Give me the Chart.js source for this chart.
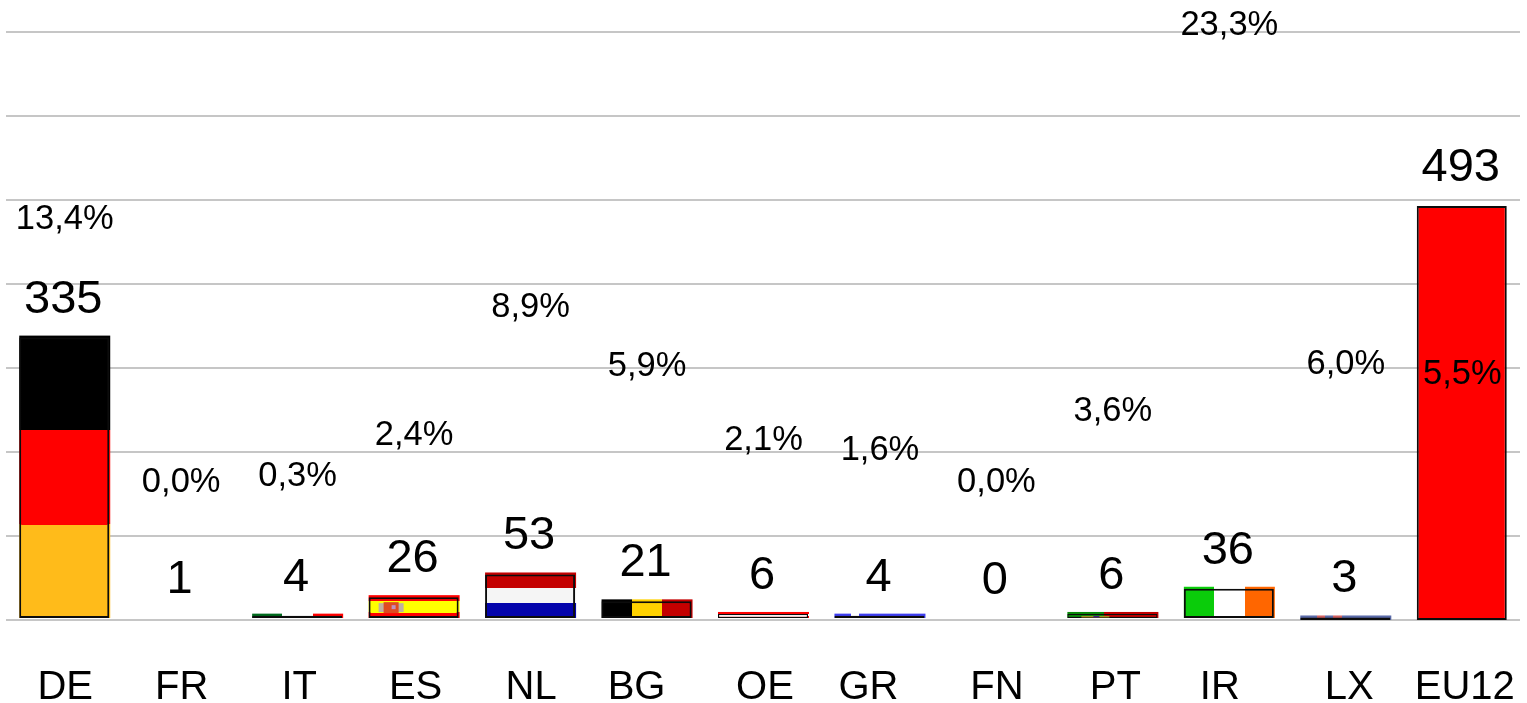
<!DOCTYPE html>
<html lang="de">
<head>
<meta charset="utf-8">
<title>EU12</title>
<style>
html,body{margin:0;padding:0;background:#fff;overflow:hidden}
canvas{display:block}
</style>
<script src="https://cdn.jsdelivr.net/npm/chart.js@4/dist/chart.umd.min.js"></script>
</head>
<body>
<canvas id="c" width="1527" height="703"></canvas>
<script>
const categories = ['DE','FR','IT','ES','NL','BG','OE','GR','FN','PT','IR','LX','EU12'];
const seats      = [335,1,4,26,53,21,6,4,0,6,36,3,493];
const shares     = [13.4,0.0,0.3,2.4,8.9,5.9,2.1,1.6,0.0,3.6,23.3,6.0,5.5];
const onBaseline = ['LX','EU12'];
const labelNudge = [1,1,2,2,1,-10,2,-11,1,3,-9,4,3];

const flags = {
  DE:{dir:'h',stripes:[['#000000',1],['#ff0000',1],['#ffbb1a',1]]},
  IT:{dir:'v',stripes:[['#006a1e',1],['#ffffff',1],['#ff0000',1]]},
  ES:{dir:'h',stripes:[['#ff0000',1],['#ffff00',2],['#ff0000',1]]},
  NL:{dir:'h',stripes:[['#c40000',1],['#f5f5f5',1],['#0404ac',1]]},
  BG:{dir:'v',stripes:[['#000000',1],['#ffd200',1],['#c40000',1]]},
  OE:{dir:'h',stripes:[['#ff0000',1],['#ffffff',1],['#ff0000',1]],thin:true},
  GR:{dir:'v',stripes:[['#4040f0',4],['#ffffff',2],['#4040f0',16]]},
  PT:{dir:'v',stripes:[['#0a8a0a',2],['#c00000',3]],thin:true},
  IR:{dir:'v',stripes:[['#0acc0a',1],['#ffffff',1],['#ff6600',1]]},
  LX:{dir:'v',stripes:[['#5a6aa8',2],['#d06060',1],['#5a6aa8',1],['#d06060',1],['#5a6aa8',6]]},
  EU12:{dir:'h',stripes:[['#ff0000',1]],flush:true}
};

const FONT = '"Liberation Sans", Arial, sans-serif';
const OVERHANG_TOP = 2, OVERHANG_RIGHT = 1, HALF_BAR = 45, OUTLINE = 2, OUTLINE_THIN = 1.2;

function flagFill(chart, name, top, bottom, left, right){
  const f = flags[name];
  if(!f || ![top,bottom,left,right].every(Number.isFinite)) return 'rgba(0,0,0,0)';
  if(f.stripes.length === 1) return f.stripes[0][0];
  const g = f.dir === 'h'
    ? chart.ctx.createLinearGradient(0, top - OVERHANG_TOP, 0, bottom)
    : chart.ctx.createLinearGradient(left, 0, right + OVERHANG_RIGHT, 0);
  const total = f.stripes.reduce((s,x)=>s+x[1],0);
  let acc = 0;
  f.stripes.forEach(([col,w])=>{
    g.addColorStop(acc/total,col);
    acc += w;
    g.addColorStop(acc/total,col);
  });
  return g;
}

function barFill(ctx){
  if(ctx.type !== 'data') return 'rgba(0,0,0,0)';
  const chart = ctx.chart, i = ctx.dataIndex, v = ctx.dataset.data[i];
  if(v === null) return 'rgba(0,0,0,0)';
  const ys = chart.scales[ctx.dataset.yAxisID], xs = chart.scales.x;
  if(!ys || !xs) return 'rgba(0,0,0,0)';
  const cx = xs.getPixelForValue(i);
  return flagFill(chart, categories[i], ys.getPixelForValue(v), ys.getPixelForValue(0), cx-HALF_BAR, cx+HALF_BAR);
}

function barOutline(ctx){
  const f = flags[categories[ctx.dataIndex]];
  if(!f) return 0;
  return f.thin ? OUTLINE_THIN : OUTLINE;
}

const overlayPlugin = {
  id:'overlay',
  beforeDraw(chart){
    const items = chart.scales.x.getLabelItems();
    if(items._nudged) return;
    items.forEach((it,i)=>{ it.options.translation[0] += labelNudge[i]; });
    items._nudged = true;
  },
  beforeDatasetsDraw(chart){
    const ctx = chart.ctx;
    [0,1].forEach(d=>{
      chart.getDatasetMeta(d).data.forEach((el,i)=>{
        const name = categories[i], f = flags[name];
        if(!f || f.flush || chart.data.datasets[d].data[i] === null) return;
        const left = el.x - el.width/2, right = el.x + el.width/2;
        ctx.fillStyle = flagFill(chart, name, el.y, el.base, left, right);
        ctx.fillRect(left, el.y - OVERHANG_TOP, el.width + OVERHANG_RIGHT, el.base - el.y + OVERHANG_TOP);
      });
    });
  },
  afterDatasetsDraw(chart){
    const ctx = chart.ctx;
    const barAt = i => {
      const d = onBaseline.includes(categories[i]) ? 1 : 0;
      return chart.getDatasetMeta(d).data[i];
    };
    // coats of arms on the two flags that have one
    const es = barAt(categories.indexOf('ES'));
    const ex = es.x - es.width/2;
    ctx.fillStyle = '#c0b0a0'; ctx.fillRect(ex+10, es.y+6, 25, 9);
    ctx.fillStyle = '#e04a20'; ctx.fillRect(ex+15, es.y+5, 15, 11);
    ctx.fillStyle = '#c090c0'; ctx.fillRect(ex+23, es.y+8, 4, 4);
    const pt = barAt(categories.indexOf('PT'));
    const px = pt.x - pt.width/2;
    ctx.fillStyle = '#a09020'; ctx.fillRect(px+14, pt.y+2, 28, 1.5);
    ctx.fillStyle = '#402080'; ctx.fillRect(px+26, pt.y+2, 6, 1.5);

    ctx.save();
    ctx.fillStyle = '#000';
    ctx.textAlign = 'center';
    ctx.textBaseline = 'middle';
    ctx.font = '47px ' + FONT;
    seats.forEach((v,i)=>{
      const el = barAt(i);
      ctx.fillText(String(v), el.x - 1, el.y - 38);
    });
    ctx.font = '34.5px ' + FONT;
    chart.getDatasetMeta(2).data.forEach((pt,i)=>{
      ctx.fillText(shares[i].toFixed(1).replace('.',',') + '%', pt.x + 0.5, pt.y + 2);
    });
    ctx.restore();
  }
};

new Chart(document.getElementById('c'), {
  data:{
    labels:categories,
    datasets:[
      {
        type:'bar', label:'Sitze', yAxisID:'yFlag', order:2,
        data:seats.map((v,i)=>onBaseline.includes(categories[i]) ? null : v),
        grouped:false, barThickness:90, borderSkipped:false, inflateAmount:0, base:1.19,
        backgroundColor:barFill,
        borderColor:'#0c0c0c',
        borderWidth:barOutline
      },
      {
        type:'bar', label:'Sitze (Basis)', yAxisID:'yBase', order:2,
        data:seats.map((v,i)=>onBaseline.includes(categories[i]) ? v : null),
        grouped:false, barThickness:90, borderSkipped:false, inflateAmount:0,
        backgroundColor:barFill,
        borderColor:'#0c0c0c',
        borderWidth:OUTLINE
      },
      {
        type:'line', label:'Anteil', yAxisID:'yShare', order:1,
        data:shares, showLine:false, pointRadius:0, pointHitRadius:0, clip:false
      }
    ]
  },
  options:{
    responsive:false,
    animation:false,
    devicePixelRatio:1,
    layout:{padding:{left:6,right:7,top:32,bottom:0}},
    plugins:{legend:{display:false},tooltip:{enabled:false},title:{display:false}},
    scales:{
      x:{
        type:'category',
        grid:{display:false,drawTicks:false},
        border:{display:false},
        afterFit(s){ s.height = 83; s.paddingLeft = 0; s.paddingRight = 0; },
        ticks:{
          autoSkip:false,maxRotation:0,minRotation:0,padding:44,color:'#000',
          font:{family:FONT,size:40}
        }
      },
      y:{
        position:'left',min:0,max:700,
        afterFit(s){ s.width = 0; },
        grid:{color:'#c6c6c6',lineWidth:2,drawTicks:false},
        border:{display:false},
        ticks:{display:false,stepSize:100}
      },
      yBase:{display:false,min:0,max:700},
      yFlag:{display:false,min:-1.19,max:698.81},
      yShare:{display:false,min:-7.14,max:22.857}
    }
  },
  plugins:[overlayPlugin]
});
</script>
</body>
</html>
